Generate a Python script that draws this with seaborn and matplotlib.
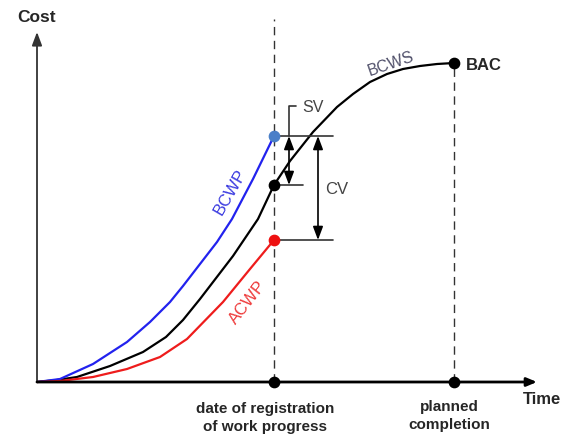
import matplotlib
matplotlib.use("Agg")
import matplotlib.pyplot as plt
import seaborn as sns

# curves (time, cost)
bcws_t = [0, 20, 40, 73, 106, 129, 146, 163, 196, 221, 237, 253, 276, 300, 316, 333, 350, 366, 383, 400, 417]
bcws_c = [0, 2, 5, 16, 30, 45, 62, 83, 126, 163, 197, 221, 250, 275, 288, 300, 308, 313, 316, 318, 319]

bcwp_t = [0, 23, 56, 90, 113, 133, 146, 180, 195, 216, 237]
bcwp_c = [0, 3, 18, 40, 60, 80, 96, 140, 163, 203, 246]

acwp_t = [0, 23, 56, 90, 123, 150, 186, 213, 237]
acwp_c = [0, 1, 5, 13, 25, 43, 80, 113, 142]

date_t = 237
finish_t = 417
bac = 319
bcwp_now = 246
bcws_now = 197
acwp_now = 142

sns.set_style("white")
plt.rcParams['font.family'] = ['Liberation Sans', 'DejaVu Sans']

fig = plt.figure(figsize=(5.72, 4.39), dpi=100)
ax = fig.add_axes([0, 0, 1, 1])
ax.set_xlim(-37, 535)
ax.set_ylim(-56, 383)
ax.axis("off")

# axes with arrows
ax.annotate("", xy=(0, 350), xytext=(0, 0),
            arrowprops=dict(arrowstyle="-|>,head_length=0.8,head_width=0.3", color="#333333",
                            lw=1.3, shrinkA=0, shrinkB=0))
ax.annotate("", xy=(500, 0), xytext=(0, 0),
            arrowprops=dict(arrowstyle="-|>,head_length=0.6,head_width=0.25", color="black",
                            lw=2, shrinkA=0, shrinkB=0))

# dashed guides
ax.plot([date_t, date_t], [0, 363], color="#333333", lw=1, ls=(0, (6, 4)))
ax.plot([finish_t, finish_t], [0, bac], color="#333333", lw=1, ls=(0, (6, 4)))

# curves
sns.lineplot(x=bcws_t, y=bcws_c, ax=ax, color="black", lw=1.6, sort=False)
sns.lineplot(x=bcwp_t, y=bcwp_c, ax=ax, color="#2222ee", lw=1.6, sort=False)
sns.lineplot(x=acwp_t, y=acwp_c, ax=ax, color="#ee1c1c", lw=1.6, sort=False)

# points
ax.scatter([date_t, finish_t, finish_t, date_t], [0, 0, bac, bcws_now], s=55, color="black", zorder=5)
ax.scatter([date_t], [bcwp_now], s=55, color="#4a7fc8", zorder=5)
ax.scatter([date_t], [acwp_now], s=55, color="#ee1111", zorder=5)

# variance brackets
gray = "#333333"
ax.plot([date_t, 296], [bcwp_now, bcwp_now], color=gray, lw=1.2)
ax.plot([243, 266], [bcws_now, bcws_now], color=gray, lw=1.2)
ax.plot([243, 296], [acwp_now, acwp_now], color=gray, lw=1.2)
ax.plot([252, 252, 259], [bcwp_now, 276, 276], color=gray, lw=1.2)
ax.annotate("", xy=(252, bcws_now), xytext=(252, bcwp_now),
            arrowprops=dict(arrowstyle="<|-|>,head_length=0.8,head_width=0.3", color="black",
                            lw=1.2, shrinkA=0, shrinkB=0))
ax.annotate("", xy=(281, acwp_now), xytext=(281, bcwp_now),
            arrowprops=dict(arrowstyle="<|-|>,head_length=0.8,head_width=0.3", color="black",
                            lw=1.2, shrinkA=0, shrinkB=0))

# labels
ax.text(0, 365, "Cost", ha="center", va="center", fontsize=12.5, fontweight="bold")
ax.text(486, -17, "Time", ha="left", va="center", fontsize=12, fontweight="bold")
ax.text(429, bac - 2, "BAC", ha="left", va="center", fontsize=12, fontweight="bold")
ax.text(265, 276, "SV", ha="left", va="center", fontsize=11.5, color="#444444")
ax.text(288, 193, "CV", ha="left", va="center", fontsize=12, color="#444444")
ax.text(354, 319, "BCWS", ha="center", va="center", fontsize=11.5, color="#50506a", rotation=19)
ax.text(193, 191, "BCWP", ha="center", va="center", fontsize=12, color="#3a3ae0", rotation=60)
ax.text(211, 80, "ACWP", ha="center", va="center", fontsize=12, color="#ee3a3a", rotation=52)
ax.text(228, -19, "date of registration\nof work progress", ha="center", va="top",
        fontsize=11, fontweight="bold", linespacing=1.4)
ax.text(412, -17, "planned\ncompletion", ha="center", va="top",
        fontsize=11, fontweight="bold", linespacing=1.4)

fig.savefig("out.png", dpi=100)
